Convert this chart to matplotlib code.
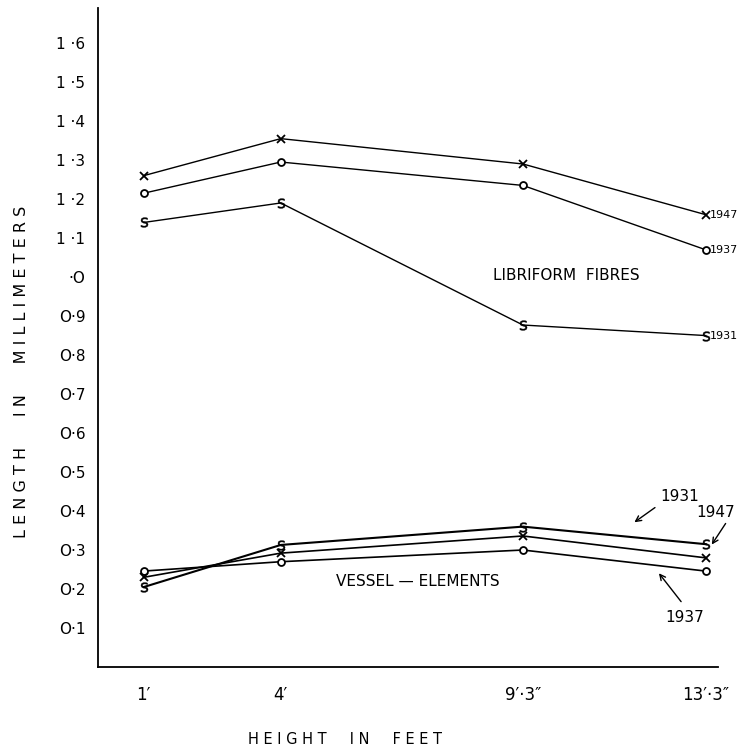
import matplotlib
matplotlib.use('Agg')
from matplotlib import pyplot as plt

# height along the stem (feet) and the tick labels drawn for them
heights = [1, 4, 9.3, 13.3]
height_labels = ["1′", "4′", "9′·3″", "13′·3″"]

# libriform fibre length (mm)
fibre_1947 = [1.26, 1.355, 1.29, 1.16]
fibre_1937 = [1.215, 1.295, 1.235, 1.07]
fibre_1931 = [1.14, 1.19, 0.877, 0.85]

# vessel-element length (mm)
vessel_1947 = [0.23, 0.292, 0.336, 0.28]
vessel_1937 = [0.246, 0.27, 0.30, 0.246]
vessel_1931 = [0.205, 0.313, 0.36, 0.315]

y_ticks = [0.1, 0.2, 0.3, 0.4, 0.5, 0.6, 0.7, 0.8, 0.9, 1.0, 1.1, 1.2, 1.3, 1.4, 1.5, 1.6]
y_labels = ["O·1", "O·2", "O·3", "O·4", "O·5", "O·6", "O·7", "O·8", "O·9", "·O",
            "1 ·1", "1 ·2", "1 ·3", "1 ·4", "1 ·5", "1 ·6"]

plt.rcParams['font.family'] = ['DejaVu Sans']

fig = plt.figure(figsize=(7.38, 7.48), dpi=100)
ax = fig.add_axes([98 / 738, 1 - 667 / 748, 620 / 738, 659 / 748])

# markers: x for 1947, open circle for 1937, letter s for 1931
styles = {
    '1947': dict(marker='x', ms=6, mew=1.3),
    '1937': dict(marker='o', ms=5, mfc='white', mew=1.3),
    '1931': dict(marker='$\\mathrm{s}$', ms=7, mew=0.3),
}

ax.plot(heights, fibre_1947, color='black', lw=1.0, **styles['1947'])
ax.plot(heights, fibre_1937, color='black', lw=1.0, **styles['1937'])
ax.plot(heights, fibre_1931, color='black', lw=1.0, **styles['1931'])

ax.plot(heights, vessel_1947, color='black', lw=1.2, **styles['1947'])
ax.plot(heights, vessel_1937, color='black', lw=1.2, **styles['1937'])
ax.plot(heights, vessel_1931, color='black', lw=1.5, **styles['1931'])

# year labels at the right end of the fibre curves
for vals, year in [(fibre_1947, '1947'), (fibre_1937, '1937'), (fibre_1931, '1931')]:
    ax.text(heights[-1] + 0.1, vals[-1], year, fontsize=8, ha='left', va='center')

ax.text(10.26, 1.005, "LIBRIFORM  FIBRES", fontsize=11, ha='center', va='center')
ax.text(7.0, 0.218, "VESSEL — ELEMENTS", fontsize=11, ha='center', va='center')

# arrows pointing at the vessel curves
arr = dict(arrowstyle='->', color='black', lw=1.0)
ax.annotate('', xy=(11.69, 0.367), xytext=(12.24, 0.413), arrowprops=arr)
ax.text(12.74, 0.436, '1931', fontsize=11, ha='center', va='center')
ax.annotate('', xy=(13.4, 0.308), xytext=(13.77, 0.374), arrowprops=arr, annotation_clip=False)
ax.text(13.51, 0.395, '1947', fontsize=11, ha='center', va='center')
ax.annotate('', xy=(12.24, 0.246), xytext=(12.8, 0.162), arrowprops=arr)
ax.text(12.85, 0.126, '1937', fontsize=11, ha='center', va='center')

ax.set_xlim(0, 13.57)
ax.set_ylim(0, 1.69)
ax.set_xticks(heights)
ax.set_xticklabels(height_labels, fontsize=12)
ax.set_yticks(y_ticks)
ax.set_yticklabels(y_labels, fontsize=11)
ax.tick_params(axis='both', length=0)
ax.tick_params(axis='y', pad=9)
ax.tick_params(axis='x', pad=14)

for side in ['top', 'right']:
    ax.spines[side].set_visible(False)
for side in ['left', 'bottom']:
    ax.spines[side].set_linewidth(1.3)

fig.text(22 / 738, 1 - 372 / 748, "L E N G T H      I N      M I L L I M E T E R S",
         rotation=90, fontsize=11.5, ha='center', va='center')
fig.text(345 / 738, 1 - 740 / 748, "H E I G H T     I N     F E E T",
         fontsize=10.5, ha='center', va='center')

fig.savefig('out.png', dpi=100)
